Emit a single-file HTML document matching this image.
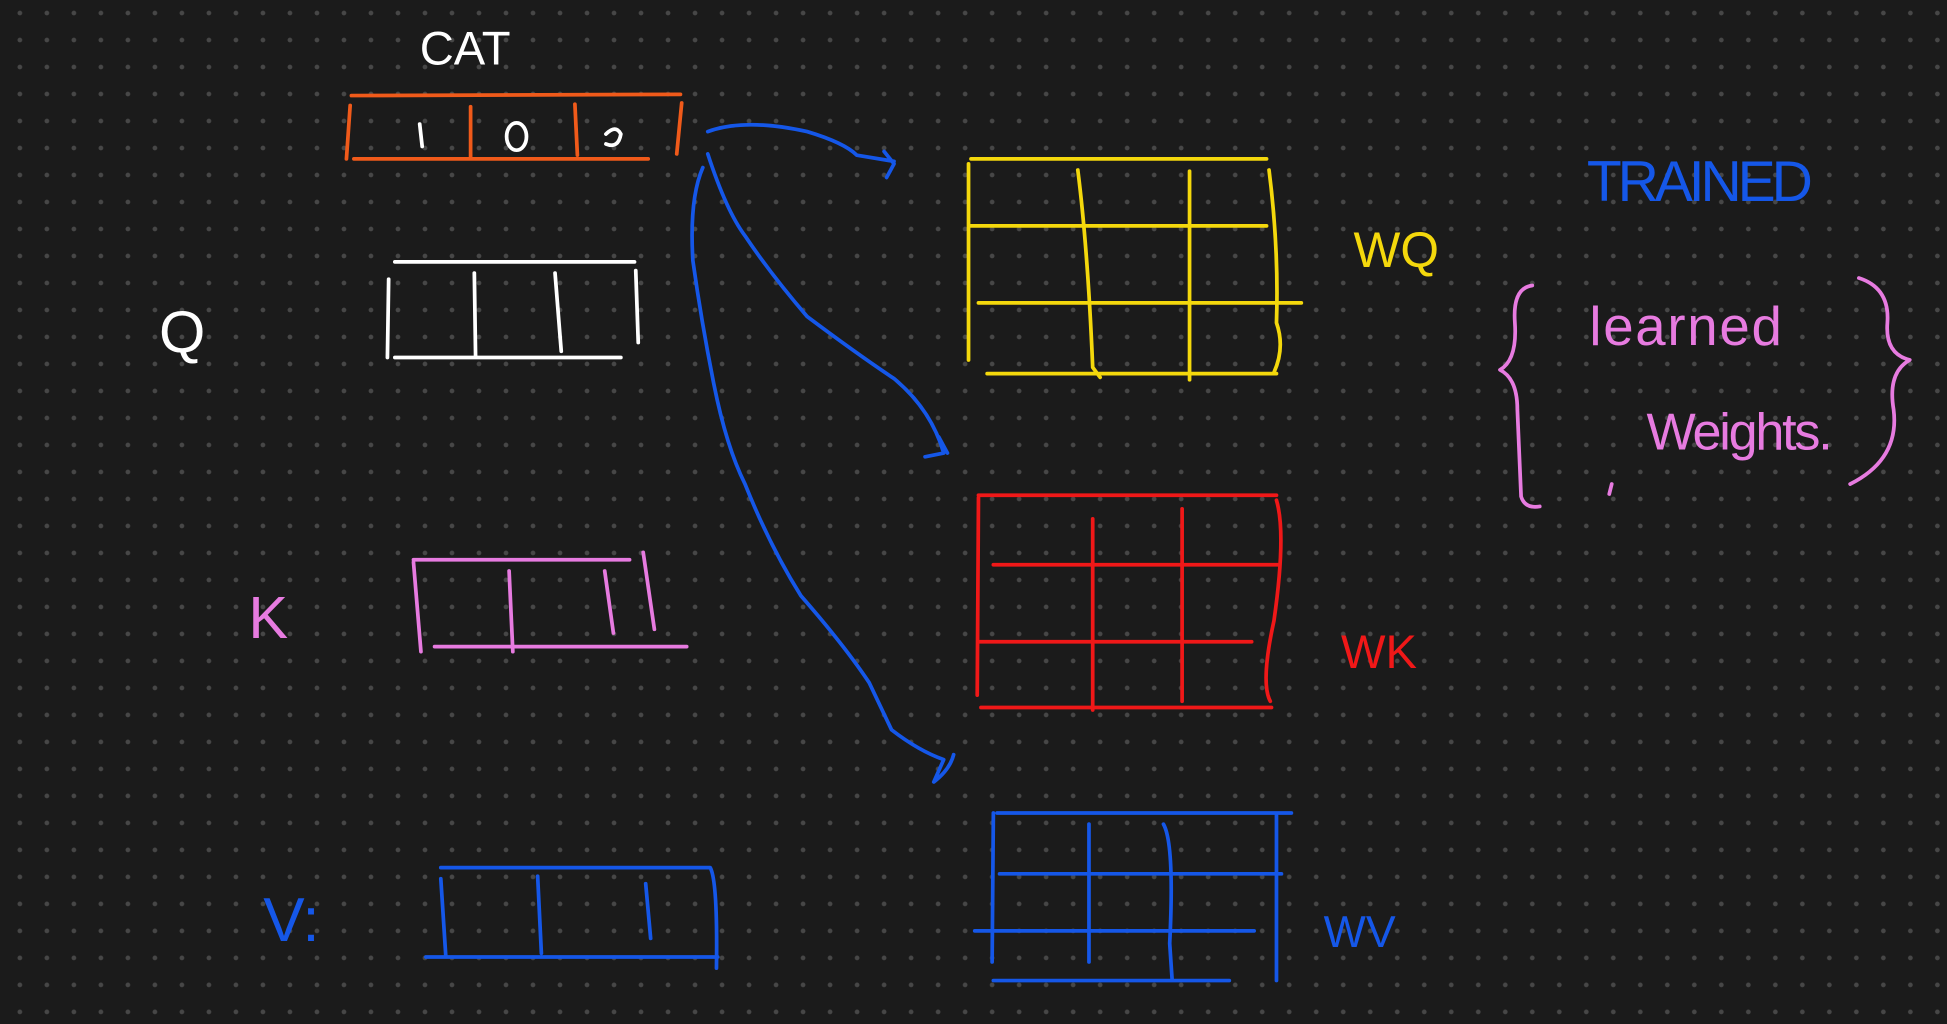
<!DOCTYPE html>
<html><head><meta charset="utf-8"><style>
html,body{margin:0;padding:0;background:#1b1b1b;}
svg{display:block}
text{font-family:"Liberation Sans",sans-serif;}
</style></head><body>
<svg width="1947" height="1024" viewBox="0 0 1568 825" preserveAspectRatio="none" xmlns="http://www.w3.org/2000/svg">
<defs><pattern id="dots" x="16" y="10.5" width="21.75" height="21.75" patternUnits="userSpaceOnUse"><circle cx="0" cy="0" r="1.9" fill="#474747"/><circle cx="21.75" cy="0" r="1.9" fill="#474747"/><circle cx="0" cy="21.75" r="1.9" fill="#474747"/><circle cx="21.75" cy="21.75" r="1.9" fill="#474747"/></pattern></defs>
<rect width="1568" height="825" fill="#1b1b1b"/>
<rect width="1568" height="825" fill="url(#dots)"/>
<g fill="none" stroke-width="3" stroke-linecap="round" stroke-linejoin="round">
<g stroke="#f05a1a">
<path d="M283 77 L548 76 M282 85 L279 128 M285 128 L522 128 M379 86 L379 127 M463 84 L465 125 M549 83 L545 124"/>
<path d="M338 100 L340 118" stroke="#fff"/>
<ellipse cx="416" cy="110" rx="8" ry="11" stroke="#fff"/>
<path d="M488 108 q8 -8 12 0 q-2 12 -12 8" stroke="#fff"/>
</g>
<g stroke="#fff">
<path d="M318 211 L511 211 M313 225 L312 288 M318 288 L500 288 M382 220 L383 287 M447 220 L452 283 M512 218 L514 276"/>
</g>
<g stroke="#e77be0">
<path d="M333 451 L507 451 M333 453 L339 525 M350 521 L553 521 M410 460 L413 525 M487 460 L494 510 M518 445 L527 507"/>
</g>
<g stroke="#1557e8">
<path d="M355 699 L572 699 Q578 710 577 780 M355 708 L359 770 M343 771 L578 771 M433 706 L436 768 M520 712 L524 756"/>
</g>
<g stroke="#f4d80c">
<path d="M782 128 L1020 128 M780 132 L780 290 M780 182 L1020 182 M788 244 L1048 244 M795 301 L1028 301 M868 137 Q876 200 880 296 L886 304 M958 138 L958 306 M1022 137 Q1030 200 1028 260 Q1035 280 1026 300"/>
</g>
<g stroke="#f01818">
<path d="M788 399 L1028 399 M788 401 L787 560 M800 455 L1030 455 M788 517 L1008 517 M790 570 L1024 570 M880 418 L880 572 M952 410 L952 565 M1028 403 Q1036 430 1026 500 Q1015 550 1023 565"/>
</g>
<g stroke="#1557e8">
<path d="M803 655 L1040 655 M800 655 L799 775 M805 704 L1032 704 M785 750 L1010 750 M800 790 L990 790 M877 664 L877 775 M937 664 Q946 680 942 760 L944 790 M1028 657 L1028 790"/>
</g>
<g stroke="#1557e8">
<path d="M570 106 Q600 95 650 106 Q680 115 690 125 L720 130 M712 122 L720 132 L714 143"/>
<path d="M570 124 Q585 170 600 190 Q620 220 650 255 Q690 285 720 305 Q750 330 760 365 L745 368 M756 352 L763 365"/>
<path d="M566 135 Q555 160 558 210 Q565 260 575 310 Q585 360 600 390 Q620 440 645 480 Q680 520 700 550 L718 588 Q740 605 760 612 L752 630 Q765 620 768 608"/>
</g>
<g stroke="#e77be0">
<path d="M1234 230 Q1218 232 1220 260 Q1222 290 1208 298 Q1222 305 1222 330 L1225 400 Q1228 410 1240 408"/>
<path d="M1497 224 Q1522 232 1520 260 Q1518 285 1538 290 Q1520 300 1525 330 Q1530 370 1490 390"/>
<path d="M1298 390 L1296 398"/>
</g>
</g>
<g>
<text x="338" y="52" fill="#fff" font-size="38">CAT</text>
<text x="128" y="284" fill="#fff" font-size="48">Q</text>
<text x="200" y="514" fill="#e77be0" font-size="48">K</text>
<text x="212" y="758" fill="#1557e8" font-size="50">V:</text>
<text x="1090" y="215" fill="#f4d80c" font-size="40">WQ</text>
<text x="1080" y="538" fill="#f01818" font-size="38">WK</text>
<text x="1066" y="763" fill="#1557e8" font-size="36">WV</text>
<text x="1278" y="162" fill="#1557e8" font-size="46" textLength="182">TRAINED</text>
<text x="1280" y="278" fill="#e77be0" font-size="44" textLength="155">learned</text>
<text x="1326" y="362" fill="#e77be0" font-size="42" textLength="150">Weights.</text>
</g>
</svg>
</body></html>
